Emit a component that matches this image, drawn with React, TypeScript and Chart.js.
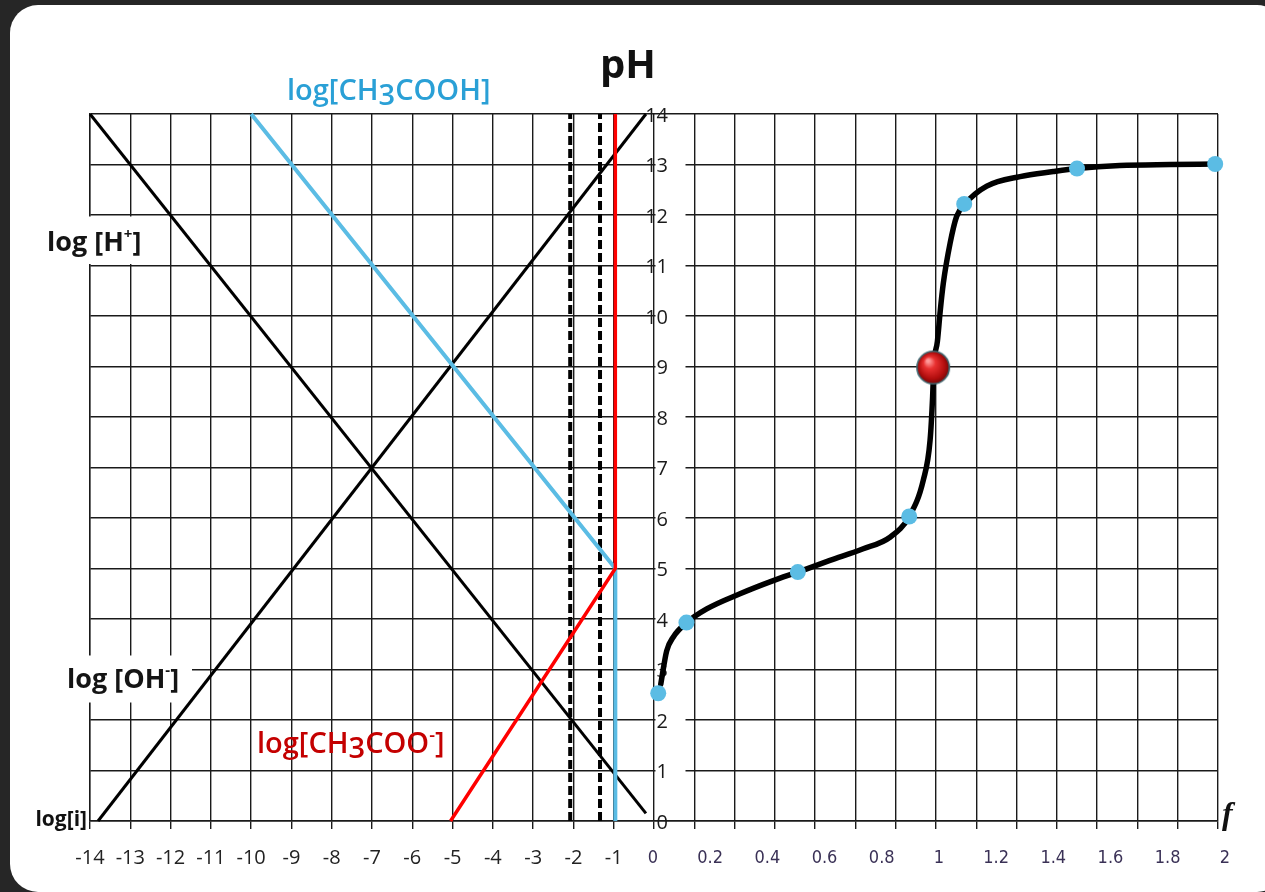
import React, { useEffect, useRef } from 'react';
import { Chart, registerables } from 'chart.js';

Chart.register(...registerables);

// ---- axis ticks ----
const LOG_TICKS = [-14, -13, -12, -11, -10, -9, -8, -7, -6, -5, -4, -3, -2, -1];
const PH_TICKS = [0, 1, 2, 3, 4, 5, 6, 7, 8, 9, 10, 11, 12, 13, 14];
const F_TICKS = [0, 0.2, 0.4, 0.6, 0.8, 1, 1.2, 1.4, 1.6, 1.8, 2];

// ---- logarithmic diagram (x = log concentration, y = pH) ----
const H_LINE_X = [-14, -0.2];
const H_LINE_Y = [14, 0.15];
const OH_LINE_X = [-13.8, -0.2];
const OH_LINE_Y = [0, 14];
const ACID_X = [-10, -0.96, -0.96];
const ACID_Y = [14, 5, 0];
const BASE_X = [-5.05, -0.96, -0.96];
const BASE_Y = [0, 5, 14];
const DASH_A_X = [-2.08, -2.08];
const DASH_B_X = [-1.34, -1.34];
const DASH_Y = [0, 14];

// ---- titration curve (x = f, y = pH) ----
const CURVE_F = [0.024, 0.045, 0.068, 0.116, 0.187, 0.305, 0.423, 0.51, 0.624, 0.742, 0.837, 0.905, 0.955, 0.979, 0.988, 0.992, 1.005, 1.015, 1.026, 1.05, 1.073, 1.103, 1.18, 1.298, 1.416, 1.5, 1.652, 1.83, 1.99];
const CURVE_PH = [2.71, 3.37, 3.64, 3.93, 4.2, 4.5, 4.76, 4.93, 5.16, 5.39, 5.62, 6.03, 6.75, 7.54, 8.4, 9.0, 9.5, 10.1, 10.65, 11.44, 11.97, 12.22, 12.57, 12.76, 12.86, 12.92, 12.98, 13.0, 13.01];
const DOT_F = [0.015, 0.115, 0.51, 0.905, 1.1, 1.5, 1.99];
const DOT_PH = [2.53, 3.93, 4.93, 6.03, 12.22, 12.92, 13.01];
const EQ_F = [0.99];
const EQ_PH = [8.98];

const SANS = '"Open Sans", "DejaVu Sans", sans-serif';
const NARROW = '"Liberation Sans Narrow", "DejaVu Sans Condensed", sans-serif';
const GRID = '#1a1a1a';
const BLUE = '#5bbce4';
const RED = '#ff0000';

const pts = (xs: number[], ys: number[]) => xs.map((x, i) => ({ x, y: ys[i] }));

type Run = { t: string; font?: string; dy?: number };

function drawRuns(ctx: CanvasRenderingContext2D, runs: Run[], x: number, y: number, font: string, color: string, align: 'left' | 'center' | 'right' = 'left') {
  let total = 0;
  for (const r of runs) {
    ctx.font = r.font ?? font;
    total += ctx.measureText(r.t).width;
  }
  let cx = align === 'center' ? x - total / 2 : align === 'right' ? x - total : x;
  ctx.fillStyle = color;
  ctx.textAlign = 'left';
  ctx.textBaseline = 'alphabetic';
  for (const r of runs) {
    ctx.font = r.font ?? font;
    ctx.fillText(r.t, cx, y + (r.dy ?? 0));
    cx += ctx.measureText(r.t).width;
  }
}

function makeBall(r: number): HTMLCanvasElement {
  const c = document.createElement('canvas');
  c.width = c.height = 2 * r + 2;
  const g = c.getContext('2d')!;
  const m = r + 1;
  const grad = g.createRadialGradient(m - r * 0.3, m - r * 0.4, r * 0.08, m, m, r);
  grad.addColorStop(0, '#ff9a9a');
  grad.addColorStop(0.3, '#e83030');
  grad.addColorStop(0.75, '#b00d0d');
  grad.addColorStop(1, '#6a0808');
  g.beginPath();
  g.arc(m, m, r - 0.8, 0, Math.PI * 2);
  g.fillStyle = grad;
  g.fill();
  g.lineWidth = 1.6;
  g.strokeStyle = '#3f6770';
  g.stroke();
  return c;
}

const overlay = {
  id: 'overlay',
  beforeDatasetsDraw(chart: any) {
    const ctx: CanvasRenderingContext2D = chart.ctx;
    const y = chart.scales.y;
    const x = chart.scales.x;
    ctx.save();
    ctx.fillStyle = '#ffffff';
    // label boxes on the left side
    const y12 = y.getPixelForValue(12);
    const y11 = y.getPixelForValue(11);
    ctx.fillRect(38, y12 + 1.5, 114, y11 - y12 - 3);
    const y3 = y.getPixelForValue(3);
    ctx.fillRect(58, y3 - 14, 134, 47);
    const boldFont = `bold 27px ${SANS}`;
    const supFont = `bold 15px ${SANS}`;
    drawRuns(ctx, [{ t: 'log [H' }, { t: '+', font: supFont, dy: -12 }, { t: ']' }], 47, 251, boldFont, '#141414');
    drawRuns(ctx, [{ t: 'log [OH' }, { t: '-', font: supFont, dy: -13 }, { t: ']' }], 67, 688, boldFont, '#141414');

    // pH tick labels at the middle axis
    const x0 = x.getPixelForValue(0);
    ctx.font = `20px ${SANS}`;
    ctx.textAlign = 'right';
    ctx.textBaseline = 'middle';
    for (const v of PH_TICKS) {
      const py = y.getPixelForValue(v);
      if (v > 0 && v < 14) {
        ctx.fillStyle = '#ffffff';
        ctx.fillRect(x0 + 1.5, py - 10, 30, 20);
      }
      ctx.fillStyle = '#1a1a1a';
      ctx.fillText(String(v), x0 + 14, py + 2);
    }
    ctx.restore();
  },
  afterDraw(chart: any) {
    const ctx: CanvasRenderingContext2D = chart.ctx;
    const fs = chart.scales.xTicksF;
    const area = chart.chartArea;
    ctx.save();
    // f tick labels
    ctx.font = `18px ${NARROW}`;
    ctx.fillStyle = '#3a3156';
    ctx.textAlign = 'center';
    ctx.textBaseline = 'middle';
    for (const v of F_TICKS) {
      ctx.fillText(String(v), fs.getPixelForValue(v), area.bottom + 37);
    }
    // titles and curve names
    ctx.font = `bold 40px ${SANS}`;
    ctx.fillStyle = '#111111';
    ctx.textAlign = 'center';
    ctx.textBaseline = 'alphabetic';
    ctx.fillText('pH', 628, 78);

    const nameFont = `600 29px ${SANS}`;
    drawRuns(ctx, [{ t: 'log[CH' }, { t: '3', dy: 5 }, { t: 'COOH]' }], 287, 100, nameFont, '#2aa0d6');
    drawRuns(ctx, [{ t: 'log[CH' }, { t: '3', dy: 5 }, { t: 'COO' }, { t: '-', font: `600 18px ${SANS}`, dy: -12 }, { t: ']' }], 257, 753, nameFont, '#c40000');

    ctx.font = `bold 21px ${SANS}`;
    ctx.fillStyle = '#111111';
    ctx.textAlign = 'right';
    ctx.fillText('log[i]', 87, 826);

    ctx.font = `italic bold 32px "Liberation Serif", "DejaVu Serif", serif`;
    ctx.textAlign = 'left';
    ctx.fillText('f', 1222, 824);
    ctx.restore();
  },
};

export default function App() {
  const ref = useRef<HTMLCanvasElement | null>(null);

  useEffect(() => {
    if (!ref.current) return;
    const ball = makeBall(17);
    const common = { showLine: true, pointRadius: 0, clip: false as any, borderCapStyle: 'butt' as const };
    const chart = new Chart(ref.current, {
      type: 'scatter',
      data: {
        datasets: [
          { label: 'eq', data: pts(EQ_F, EQ_PH), xAxisID: 'xf', pointStyle: ball as any, pointRadius: 17, showLine: false, clip: false as any },
          { label: 'points', data: pts(DOT_F, DOT_PH), xAxisID: 'xf', pointRadius: 8, backgroundColor: BLUE, borderWidth: 0, showLine: false, clip: false as any },
          { label: 'pH(f)', data: pts(CURVE_F, CURVE_PH), xAxisID: 'xf', ...common, borderColor: '#000000', borderWidth: 5.5, cubicInterpolationMode: 'monotone', borderCapStyle: 'round' },
          { label: 'log[CH3COO-]', data: pts(BASE_X, BASE_Y), ...common, borderColor: RED, borderWidth: 3.5 },
          { label: 'log[CH3COOH]', data: pts(ACID_X, ACID_Y), ...common, borderColor: BLUE, borderWidth: 4 },
          { label: 'dash1', data: pts(DASH_A_X, DASH_Y), ...common, borderColor: '#000000', borderWidth: 4, borderDash: [9, 4] },
          { label: 'dash2', data: pts(DASH_B_X, DASH_Y), ...common, borderColor: '#000000', borderWidth: 4, borderDash: [9, 4] },
          { label: 'log[OH-]', data: pts(OH_LINE_X, OH_LINE_Y), ...common, borderColor: '#000000', borderWidth: 3 },
          { label: 'log[H+]', data: pts(H_LINE_X, H_LINE_Y), ...common, borderColor: '#000000', borderWidth: 3 },
        ] as any,
      },
      options: {
        responsive: false,
        animation: false,
        events: [],
        layout: { padding: { left: 90, top: 114, right: 47, bottom: 5 } },
        plugins: { legend: { display: false }, tooltip: { enabled: false } },
        scales: {
          x: {
            type: 'linear',
            position: 'bottom',
            min: -14,
            max: 14,
            ticks: {
              stepSize: 1,
              autoSkip: false,
              maxRotation: 0,
              padding: 17,
              color: '#222222',
              font: { family: SANS, size: 20 },
              callback: (v: any) => (LOG_TICKS.includes(Number(v)) ? String(v) : ''),
            },
            grid: { color: GRID, lineWidth: 1.4, tickLength: 8, drawTicks: true },
            border: { color: GRID, width: 1.4 },
          },
          y: {
            type: 'linear',
            position: 'left',
            min: 0,
            max: 14,
            ticks: { stepSize: 1, display: false },
            grid: { color: GRID, lineWidth: 1.4, drawTicks: false },
            border: { color: GRID, width: 1.4 },
          },
          xf: { type: 'linear', axis: 'x', position: 'bottom', min: -2, max: 2, display: false },
          xTicksF: { type: 'linear', axis: 'x', position: 'bottom', min: -1.9685, max: 1.976, display: false },
        } as any,
      },
      plugins: [overlay],
    });
    return () => chart.destroy();
  }, []);

  return (
    <div style={{ position: 'fixed', left: 0, top: 0, width: 1265, height: 892, overflow: 'hidden', background: '#262626' }}>
      <div style={{ position: 'absolute', left: 10, top: 5, width: 1275, height: 887, borderRadius: 28, background: '#ffffff' }} />
      <canvas ref={ref} width={1265} height={892} style={{ position: 'absolute', left: 0, top: 0 }} />
    </div>
  );
}
